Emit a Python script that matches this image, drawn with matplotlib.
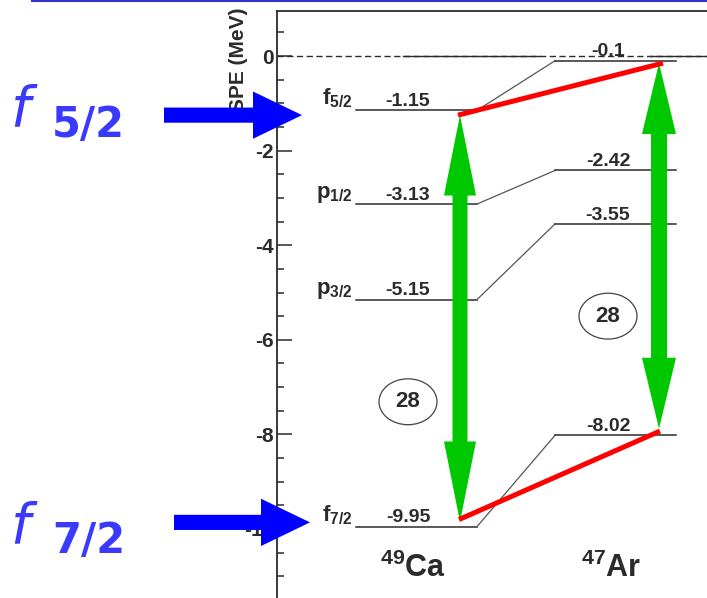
import numpy as np
import matplotlib
matplotlib.use('Agg')
import matplotlib.pyplot as plt
from matplotlib.patches import FancyArrow, Ellipse, Polygon
from matplotlib.lines import Line2D
from matplotlib.ticker import MultipleLocator
from matplotlib.transforms import blended_transform_factory

# single-particle energies (MeV) of the neutron orbitals
ORBITALS = ['f_{5/2}', 'p_{1/2}', 'p_{3/2}', 'f_{7/2}']
CA49_SPE = [-1.15, -3.13, -5.15, -9.95]
AR47_SPE = [-0.1, -2.42, -3.55, -8.02]
NUCLEI = ['^{49}Ca', '^{47}Ar']
YTICKS = [0, -2, -4, -6, -8, -10]
MAGIC = '28'
SPIN_LABELS = ['5/2', '7/2']     # the two f orbitals pointed at in blue

W, H = 707, 598
ZERO_PX, PX_PER_MEV = 56.0, 47.3
Y_TOP, Y_BOT = 0.96, -11.5

plt.rcParams['font.family'] = ['Liberation Sans', 'DejaVu Sans']
plt.rcParams['font.weight'] = 'bold'
plt.rcParams['mathtext.fontset'] = 'custom'
plt.rcParams['mathtext.rm'] = 'Liberation Sans:bold'
plt.rcParams['axes.unicode_minus'] = False

INK = '#2b2b2b'
GREEN = '#00c800'
BLUE = '#0000ff'
LABEL_BLUE = '#3a3aff'


def fx(px):
    return px / W


def fy(py):
    return 1 - py / H


def double_arrow(x, top, bot, sw, hw, hl):
    # one polygon so the two heads and the shaft have no seam
    pts = [(x - hw / 2, top - hl), (x, top), (x + hw / 2, top - hl),
           (x + sw / 2, top - hl), (x + sw / 2, bot + hl), (x + hw / 2, bot + hl),
           (x, bot), (x - hw / 2, bot + hl), (x - sw / 2, bot + hl),
           (x - sw / 2, top - hl)]
    return Polygon(pts, closed=True, fc=GREEN, ec='none', zorder=4)


fig = plt.figure(figsize=(W / 100, H / 100), dpi=100)
top_px = ZERO_PX - Y_TOP * PX_PER_MEV
bot_px = ZERO_PX - Y_BOT * PX_PER_MEV
ax = fig.add_axes([fx(277), fy(bot_px), 500 / W, (bot_px - top_px) / H])
ax.set_xlim(0, 50)
ax.set_ylim(Y_BOT, Y_TOP)

for side in ['right', 'bottom']:
    ax.spines[side].set_visible(False)
for side in ['left', 'top']:
    ax.spines[side].set_linewidth(1.3)
    ax.spines[side].set_color(INK)

ax.set_xticks([])
ax.set_yticks(YTICKS, labels=[str(t) for t in YTICKS])
ax.yaxis.set_minor_locator(MultipleLocator(0.5))
ax.tick_params(axis='y', which='major', direction='in', length=11, width=1.1,
               color=INK, labelsize=15, labelcolor=INK, pad=2)
ax.tick_params(axis='y', which='minor', direction='in', length=5, width=1.1, color=INK)

# zero energy threshold
ax.axhline(0, color=INK, lw=1.0, ls=(0, (4.5, 2.5)))
ax.plot([12.6, 26.3], [0, 0], color=INK, lw=1.0)
ax.plot([37.3, 50], [0, 0], color=INK, lw=1.0)

# level scheme
CA_X = (7.9, 20.0)
AR_X = (27.8, 39.9)
for orb, ca, ar in zip(ORBITALS, CA49_SPE, AR47_SPE):
    ax.plot(CA_X, [ca, ca], color=INK, lw=1.1)
    ax.plot([CA_X[1], AR_X[0]], [ca, ar], color='#555555', lw=0.9)
    ax.plot(AR_X, [ar, ar], color=INK, lw=1.1)
    ax.text(CA_X[0] - 0.3, ca + 0.12, r'$\mathregular{' + orb + '}$', ha='right',
            va='baseline', fontsize=16, color=INK)
    ax.text(13.1, ca + 0.09, f'{ca:g}', ha='center', va='baseline', fontsize=14, color=INK)
    ax.text(33.1, ar + 0.09, f'{ar:g}', ha='center', va='baseline', fontsize=14, color=INK)

for x, nuc in zip([13.6, 33.4], NUCLEI):
    ax.text(x, -11.02, r'$\mathregular{' + nuc + '}$', ha='center', va='baseline',
            fontsize=22, color=INK)

# N=28 gaps
for (x, y) in [(13.1, -7.31), (33.1, -5.5)]:
    ax.add_patch(Ellipse((x, y), 5.8, 0.97, fill=False, ec='#444444', lw=0.9))
    ax.text(x, y, MAGIC, ha='center', va='center', fontsize=16, color=INK)

# green double arrows spanning the gap between the two f orbitals
gaps = [
    (18.3, CA49_SPE[0] - 0.1, CA49_SPE[3] + 0.1, 1.5, 3.2, 1.7),
    (38.2, AR47_SPE[0] - 0.05, AR47_SPE[3] + 0.14, 1.6, 3.4, 1.5),
]
for g in gaps:
    ax.add_patch(double_arrow(*g))

# red lines joining the f orbital energies
ax.plot([gaps[0][0] - 0.2, gaps[1][0] + 0.4], [gaps[0][1], gaps[1][1]],
        color='red', lw=3.6, solid_capstyle='butt', zorder=5)
ax.plot([gaps[0][0] - 0.1, gaps[1][0] + 0.1], [gaps[0][2] + 0.05, gaps[1][2] - 0.05],
        color='red', lw=3.6, solid_capstyle='butt', zorder=5)

fig.text(fx(239), fy(7), 'SPE (MeV)', rotation=90, ha='center', va='top',
         fontsize=15, color=INK)

# blue arrows and labels on the left
btrans = blended_transform_factory(fig.transFigure, ax.transData)
blue_arrows = [(164, 302, CA49_SPE[0] - 0.1), (174, 310, CA49_SPE[3] + 0.09)]
for x0, x1, y in blue_arrows:
    fig.add_artist(FancyArrow(fx(x0), y, fx(x1) - fx(x0), 0, width=0.32,
                              head_width=1.0, head_length=fx(49),
                              length_includes_head=True, color=BLUE, lw=0,
                              transform=btrans, zorder=10))

for spin, base_px, f_base in zip(SPIN_LABELS, [137, 553], [125, 542]):
    fig.text(fx(10), fy(f_base), 'f', family='DejaVu Sans', style='italic',
             fontweight='normal', fontsize=40, color=LABEL_BLUE, va='baseline')
    fig.text(fx(52), fy(base_px), spin, family='DejaVu Sans', fontweight='bold',
             fontsize=30, color=LABEL_BLUE, va='baseline')

fig.add_artist(Line2D([fx(32), 1], [fy(1), fy(1)], color='#3333cc', lw=1.5))

fig.savefig('out.png', dpi=100)
